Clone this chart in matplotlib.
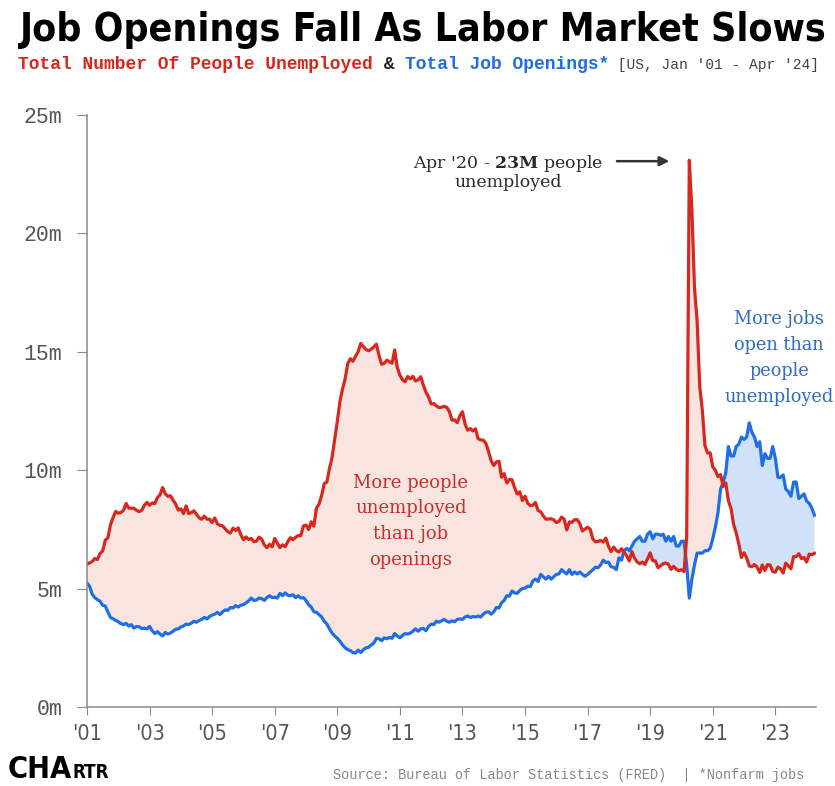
import numpy as np
import matplotlib.pyplot as plt

plt.rcParams['mathtext.fontset'] = 'dejavuserif'

# monthly, Jan 2001 - Apr 2024, thousands of people
start_year = 2001
unemployed = [
    6023, 6089, 6141, 6271, 6226, 6484, 6583, 7042, 7142, 7694, 8003, 8258,
    8182, 8215, 8304, 8599, 8399, 8393, 8390, 8304, 8251, 8307, 8520, 8640,
    8520, 8618, 8588, 8842, 8957, 9266, 9011, 8896, 8921, 8732, 8576, 8317,
    8370, 8167, 8491, 8170, 8212, 8286, 8136, 7990, 7927, 8061, 7932, 7934,
    7784, 7980, 7737, 7672, 7651, 7524, 7406, 7345, 7553, 7453, 7566, 7279,
    7064, 7184, 7072, 7120, 6980, 7001, 7175, 7091, 6847, 6727, 6872, 6762,
    7116, 6927, 6731, 6850, 6766, 6979, 7149, 7067, 7170, 7237, 7240, 7645,
    7685, 7497, 7822, 7637, 8395, 8575, 8937, 9438, 9494, 10074, 10538, 11286,
    12058, 12898, 13426, 13853, 14499, 14707, 14601, 14814, 15009, 15352, 15219, 15098,
    15046, 15113, 15202, 15325, 14849, 14474, 14512, 14648, 14579, 14516, 15081, 14348,
    14013, 13820, 13737, 13957, 13855, 13962, 13763, 13818, 13948, 13594, 13302, 13093,
    12797, 12813, 12713, 12646, 12660, 12692, 12656, 12471, 12115, 12124, 12005, 12298,
    12471, 11950, 11689, 11760, 11654, 11751, 11335, 11279, 11270, 11136, 10787, 10404,
    10202, 10349, 10380, 9702, 9859, 9460, 9608, 9599, 9262, 8990, 9090, 8717,
    8903, 8610, 8504, 8526, 8640, 8297, 8248, 8073, 7930, 7940, 7947, 7908,
    7790, 7837, 8019, 7934, 7476, 7816, 7796, 7908, 7911, 7747, 7431, 7513,
    7589, 7506, 7100, 6975, 6989, 7035, 6966, 7133, 6796, 6562, 6751, 6609,
    6542, 6682, 6548, 6384, 6166, 6565, 6284, 6123, 6047, 6119, 6018, 6266,
    6509, 6177, 6171, 5882, 5967, 6052, 6084, 6028, 5809, 5941, 5822, 5756,
    5796, 5717, 7185, 23090, 20985, 17697, 16308, 13542, 12535, 11049, 10728, 10736,
    10146, 9996, 9731, 9814, 9314, 9465, 8713, 8391, 7706, 7354, 6878, 6314,
    6512, 6302, 5952, 5923, 6016, 5907, 5683, 5995, 5761, 6011, 5993, 5722,
    5694, 5906, 5839, 5657, 6080, 5957, 5836, 6355, 6347, 6474, 6266, 6315,
    6124, 6458, 6429, 6492,
]
openings = [
    5234, 5097, 4762, 4615, 4531, 4467, 4295, 4264, 4021, 3778, 3727, 3658,
    3600, 3520, 3480, 3530, 3420, 3480, 3330, 3400, 3390, 3310, 3330, 3300,
    3400, 3220, 3100, 3180, 3080, 3000, 3150, 3080, 3120, 3200, 3280, 3300,
    3380, 3420, 3500, 3480, 3540, 3620, 3580, 3650, 3700, 3780, 3720, 3820,
    3880, 3920, 4000, 3900, 4020, 4100, 4080, 4200, 4180, 4280, 4220, 4300,
    4320, 4400, 4480, 4600, 4500, 4520, 4600, 4580, 4500, 4620, 4700, 4620,
    4640, 4600, 4800, 4700, 4820, 4720, 4700, 4740, 4620, 4700, 4600, 4620,
    4500, 4320, 4220, 4020, 4000, 3900, 3800, 3620, 3500, 3300, 3120, 3000,
    2900, 2780, 2620, 2500, 2420, 2380, 2300, 2280, 2400, 2300, 2420, 2500,
    2520, 2620, 2700, 2900, 2880, 2800, 2920, 2880, 2940, 2900, 3100, 3000,
    2920, 3020, 3100, 3080, 3120, 3200, 3300, 3200, 3300, 3320, 3220, 3400,
    3500, 3480, 3620, 3580, 3640, 3700, 3620, 3580, 3640, 3600, 3700, 3720,
    3700, 3800, 3840, 3780, 3820, 3800, 3840, 3800, 3920, 4000, 4020, 3920,
    4020, 4200, 4180, 4400, 4500, 4700, 4680, 4900, 4820, 4800, 4920, 5000,
    5020, 5100, 5080, 5320, 5400, 5300, 5600, 5500, 5400, 5520, 5400, 5500,
    5600, 5620, 5800, 5700, 5620, 5800, 5600, 5700, 5620, 5700, 5600, 5520,
    5600, 5700, 5800, 5900, 5880, 6000, 6200, 6100, 6120, 5920, 5900, 5800,
    6300, 6200, 6600, 6700, 6600, 6800, 7000, 7100, 7200, 7000, 7000, 7300,
    7400, 7100, 7300, 7300, 7250, 7300, 7000, 7200, 7000, 7200, 6800, 6800,
    7000, 7000, 6000, 4600, 5400, 6000, 6500, 6500, 6500, 6600, 6600, 6700,
    7100, 7600, 8200, 9200, 9500, 9900, 11000, 10600, 10600, 11000, 11100, 11400,
    11300, 11400, 12000, 11600, 11400, 11000, 11200, 10200, 10700, 10500, 10500, 11000,
    10500, 9700, 9700, 9800, 9200, 9100, 8900, 9500, 9500, 8800, 8900, 9000,
    8700, 8600, 8400, 8100,
]
tick_years = list(range(2001, 2024, 2))
tick_labels = ["'01", "'03", "'05", "'07", "'09", "'11", "'13", "'15", "'17", "'19", "'21", "'23"]
y_ticks = [0, 5, 10, 15, 20, 25]
y_labels = ['0m', '5m', '10m', '15m', '20m', '25m']

RED = '#d8281e'
BLUE = '#1f6ee3'
RED_FILL = '#f9e4e0'
BLUE_FILL = '#cfe2f9'
GRAY = '#8a8a8a'

t = start_year + np.arange(len(unemployed)) / 12
u = np.array(unemployed) / 1000
o = np.array(openings) / 1000

fig = plt.figure(figsize=(8.35, 7.86), dpi=100)
W, H = 835, 786
ax = fig.add_axes([87 / W, 79 / H, 729 / W, 592 / H])

ax.fill_between(t, u, o, where=u >= o, interpolate=True, color=RED_FILL, lw=0)
ax.fill_between(t, u, o, where=o > u, interpolate=True, color=BLUE_FILL, lw=0)
ax.plot(t, o, color=BLUE, lw=2.3, solid_joinstyle='round')
ax.plot(t, u, color=RED, lw=2.3, solid_joinstyle='round')

ax.set_xlim(2001, 2024.3)
ax.set_ylim(0, 25)
for s in ['top', 'right']:
    ax.spines[s].set_visible(False)
for s in ['left', 'bottom']:
    ax.spines[s].set_color(GRAY)
    ax.spines[s].set_linewidth(1.1)

ax.set_yticks(y_ticks)
ax.set_yticklabels(y_labels, family=['Liberation Mono', 'DejaVu Sans Mono'], fontsize=15.5, color='#555555')
ax.set_xticks(tick_years)
ax.set_xticklabels(tick_labels, family='DejaVu Sans', stretch='condensed', fontsize=15.5, color='#555555')
ax.tick_params(axis='y', length=7, color=GRAY, pad=11)
ax.tick_params(axis='x', length=6, color=GRAY, pad=6)

serif = ['DejaVu Serif']
ax.annotate('', xy=(2019.7, 23.05), xytext=(2017.85, 23.05),
            arrowprops=dict(arrowstyle='-|>', color='#333333', lw=1.8, mutation_scale=14))
ax.text(2014.45, 22.6, "Apr '20 - $\\mathbf{23M}$ people\nunemployed", ha='center', va='center',
        family=serif, fontsize=12.5, color='#2a2a2a', linespacing=1.05)
ax.text(2011.35, 7.85, 'More people\nunemployed\nthan job\nopenings', ha='center', va='center',
        family=serif, fontsize=13, color='#c9302c', linespacing=1.55)
ax.text(2023.12, 14.75, 'More jobs\nopen than\npeople\nunemployed', ha='center', va='center',
        family=serif, fontsize=12.8, color='#2f6cc4', linespacing=1.57, clip_on=False)

# title, fitted to width
title = fig.text(20 / W, 1 - 41 / H, 'Job Openings Fall As Labor Market Slows',
                 family='DejaVu Sans', stretch='condensed', weight='bold', fontsize=32, color='black')
fig.canvas.draw()
bb = title.get_window_extent()
title.set_fontsize(32 * 806 / bb.width)

# subtitle in coloured pieces
pieces = [('Total Number Of People Unemployed', RED, 13, 'bold'),
          (' & ', '#222222', 13, 'bold'),
          ('Total Job Openings*', BLUE, 13, 'bold'),
          (" [US, Jan '01 - Apr '24]", '#444444', 10.5, 'normal')]
x = 18 / W
for txt, col, fs, wt in pieces:
    p = fig.text(x, 1 - 69 / H, txt, family=['Liberation Mono', 'DejaVu Sans Mono'],
                 fontsize=fs, color=col, weight=wt)
    fig.canvas.draw()
    x = p.get_window_extent().x1 / W

# logo and source
logo = fig.text(8 / W, 1 - 778 / H, 'CHA', family='DejaVu Sans', stretch='condensed',
                weight='heavy', fontsize=22, color='black')
fig.canvas.draw()
fig.text(logo.get_window_extent().x1 / W, 1 - 778 / H, 'RTR', family='DejaVu Sans', stretch='condensed',
         weight='heavy', fontsize=13.5, color='black')
fig.text(333 / W, 1 - 779 / H, 'Source: Bureau of Labor Statistics (FRED)  | *Nonfarm jobs',
         family=['Liberation Mono', 'DejaVu Sans Mono'], fontsize=9.8, color='#888888')

fig.savefig('out.png', dpi=100)
